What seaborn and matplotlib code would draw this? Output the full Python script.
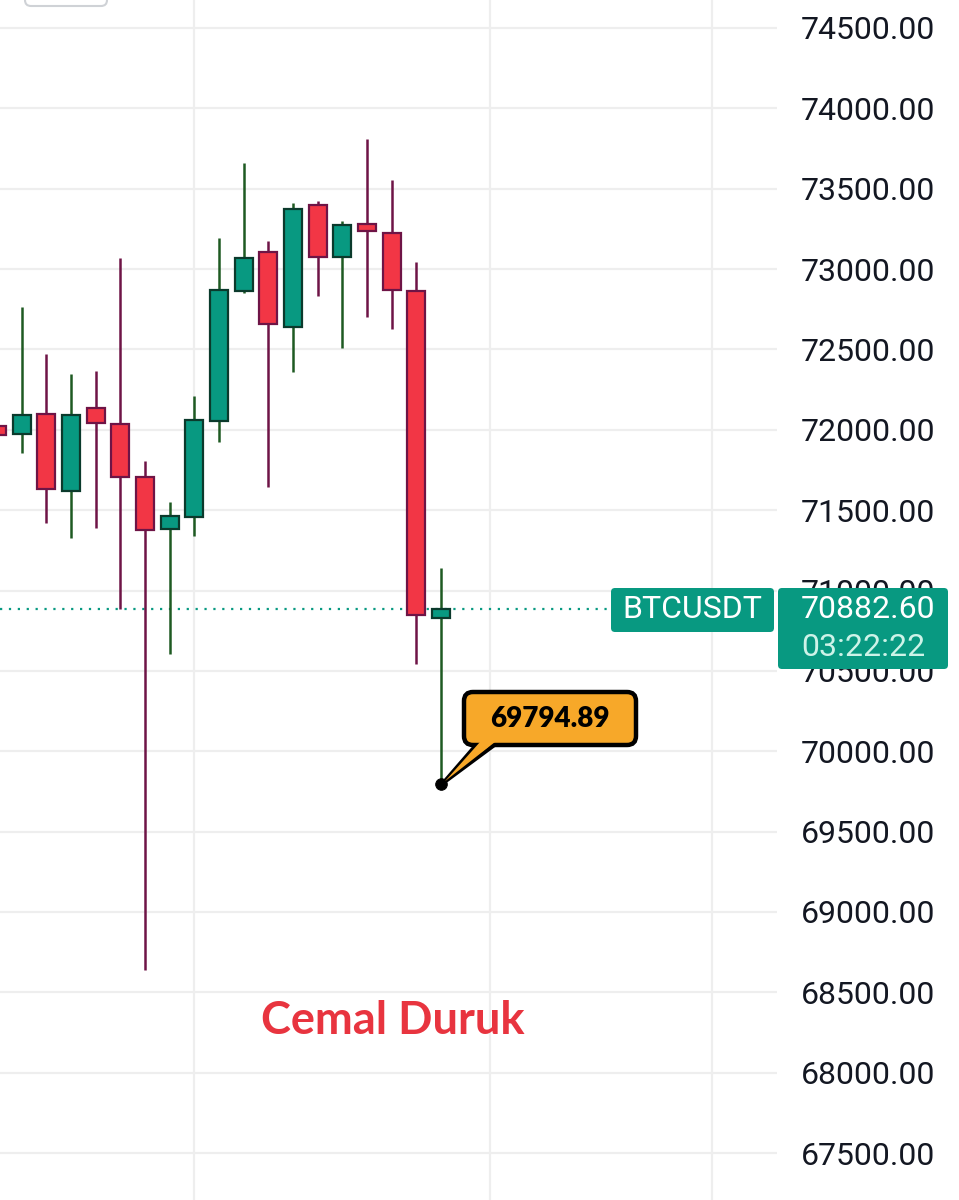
import numpy as np
import pandas as pd
import seaborn as sns
import matplotlib
matplotlib.use("Agg")
import matplotlib.pyplot as plt
from matplotlib.patches import FancyBboxPatch, Polygon
from matplotlib.transforms import Affine2D

# ---------------- data ----------------
opens  = [72024, 71974, 72098, 71619, 72136, 72036, 71706, 71383, 71457, 72055,
          72864, 73106, 72640, 73399, 73075, 73280, 73224, 72864, 70830]
highs  = [72040, 72764, 72472, 72347, 72366, 73069, 71806, 71551, 72210, 73193,
          73660, 73175, 73411, 73424, 73299, 73809, 73554, 73044, 71140]
lows   = [71960, 71856, 71420, 71327, 71389, 70885, 68640, 70605, 71339, 71924,
          72851, 71644, 72360, 72832, 72509, 72702, 72627, 70543, 69794.89]
closes = [71968, 72092, 71632, 72092, 72042, 71706, 71376, 71464, 72061, 72870,
          73069, 72658, 73374, 73075, 73274, 73237, 72870, 70848, 70882.60]
price_ticks = [67500, 68000, 68500, 69000, 69500, 70000, 70500, 71000, 71500,
               72000, 72500, 73000, 73500, 74000, 74500]
time_grid = [8, 20, 29]
symbol = "BTCUSDT"
last_price = 70882.60
countdown = "03:22:22"
low_label = "69794.89"
watermark = "Cemal Duruk"

df = pd.DataFrame({"open": opens, "high": highs, "low": lows, "close": closes})
df["idx"] = np.arange(len(df))
df["up"] = df["close"] >= df["open"]

# ---------------- style ----------------
sns.set_theme(style="white")
plt.rcParams["font.family"] = ["Roboto", "DejaVu Sans"]

UP_BODY, UP_EDGE, UP_WICK = "#089981", "#0b3a2c", "#1e5a22"
DN_BODY, DN_EDGE, DN_WICK = "#f23645", "#6e1446", "#6e1446"
TEAL = "#089981"

W, H = 959, 1200
fig = plt.figure(figsize=(W / 100, H / 100), dpi=100)
fig.patch.set_facecolor("white")
ax = fig.add_axes([0, 0, 777 / W, 1])
ax.set_facecolor("white")

ax.set_xlim(0.12, 31.62)
ax.set_ylim(67207.6, 74674.2)

# grid
for t in price_ticks:
    ax.axhline(t, color="#eeeeee", lw=1.6, zorder=0)
for g in time_grid:
    ax.axvline(g, color="#eeeeee", lw=1.6, zorder=0)

# wicks
for up, sub in df.groupby("up"):
    ax.vlines(sub["idx"], sub["low"], sub["high"],
              color=UP_WICK if up else DN_WICK, lw=1.8, zorder=2)

# bodies
for up, sub in df.groupby("up"):
    bottom = np.minimum(sub["open"], sub["close"])
    height = np.maximum(np.abs(sub["close"] - sub["open"]), 30)
    ax.bar(sub["idx"], height, bottom=bottom, width=0.73,
           color=UP_BODY if up else DN_BODY,
           edgecolor=UP_EDGE if up else DN_EDGE, linewidth=1.6, zorder=3)

# last price dotted line
ax.axhline(last_price, xmin=0, xmax=611 / 777, color=TEAL, lw=1.6,
           ls=(0, (1, 3)), zorder=1)

# low marker
sns.scatterplot(x=[df["idx"].iloc[-1]], y=[lows[-1]], color="black", s=70,
                ax=ax, zorder=6, legend=False, edgecolor="black")

# axes
for s in ax.spines.values():
    s.set_visible(False)
ax.set_xticks([])
ax.yaxis.tick_right()
ax.set_yticks(price_ticks)
ax.set_yticklabels([f"{t:.2f}" for t in price_ticks])
ax.tick_params(axis="y", length=0, pad=17, labelsize=23, labelcolor="#131722")
ax.set_xlabel("")
ax.set_ylabel("")

# pixel transform (top-left origin)
PX = Affine2D().scale(1, -1).translate(0, H).scale(0.01) + fig.dpi_scale_trans

def rbox2(x0, y0, x1, y1, fc, ec, lw, r, z):
    p = FancyBboxPatch((x0, y0), x1 - x0, y1 - y0,
                       boxstyle=f"round,pad=0,rounding_size={r}",
                       transform=PX, fc=fc, ec=ec, lw=lw, zorder=z, clip_on=False)
    fig.patches.append(p)
    return p

# top-left partial button
rbox2(25, -20, 107, 6, "white", "#cfd2d6", 1.5, 6, 5)

# symbol label and price label
rbox2(611, 588, 774, 632, TEAL, "none", 0, 4, 10)
fig.text(692, 610, symbol, transform=PX, ha="center", va="center",
         color="white", fontsize=23, zorder=11)
rbox2(778, 588, 948, 669, TEAL, "none", 0, 4, 10)
fig.text(801, 610, f"{last_price:.2f}", transform=PX, ha="left", va="center",
         color="white", fontsize=23, zorder=11)
fig.text(801, 648, countdown, transform=PX, ha="left", va="center",
         color="#cdf3e8", fontsize=23, zorder=11)

# callout
fig.canvas.draw()
tip = ax.transData.transform((df["idx"].iloc[-1], lows[-1]))
tipx, tipy = tip[0], H - tip[1]
poly = Polygon([(478, 743), (497, 743), (tipx + 3, tipy - 2)], closed=True,
               transform=PX, fc="#f7a829", ec="black", lw=3, zorder=12,
               joinstyle="round")
fig.patches.append(poly)
rbox2(464, 692, 636, 745, "#f7a829", "black", 3.2, 9, 13)
poly2 = Polygon([(480, 742), (495, 742), (tipx + 4, tipy - 3)], closed=True,
                transform=PX, fc="#f7a829", ec="none", zorder=14)
fig.patches.append(poly2)
fig.text(550, 719, low_label, transform=PX, ha="center", va="center",
         color="black", fontsize=20, fontweight="heavy",
         family=["Lato", "DejaVu Sans"], zorder=15)

# watermark
fig.text(393, 1021, watermark, transform=PX, ha="center", va="center",
         color="#e8343f", fontsize=32.5, fontweight="bold",
         family=["Lato", "DejaVu Sans"], zorder=4)

fig.savefig("out.png", dpi=100, facecolor="white")
